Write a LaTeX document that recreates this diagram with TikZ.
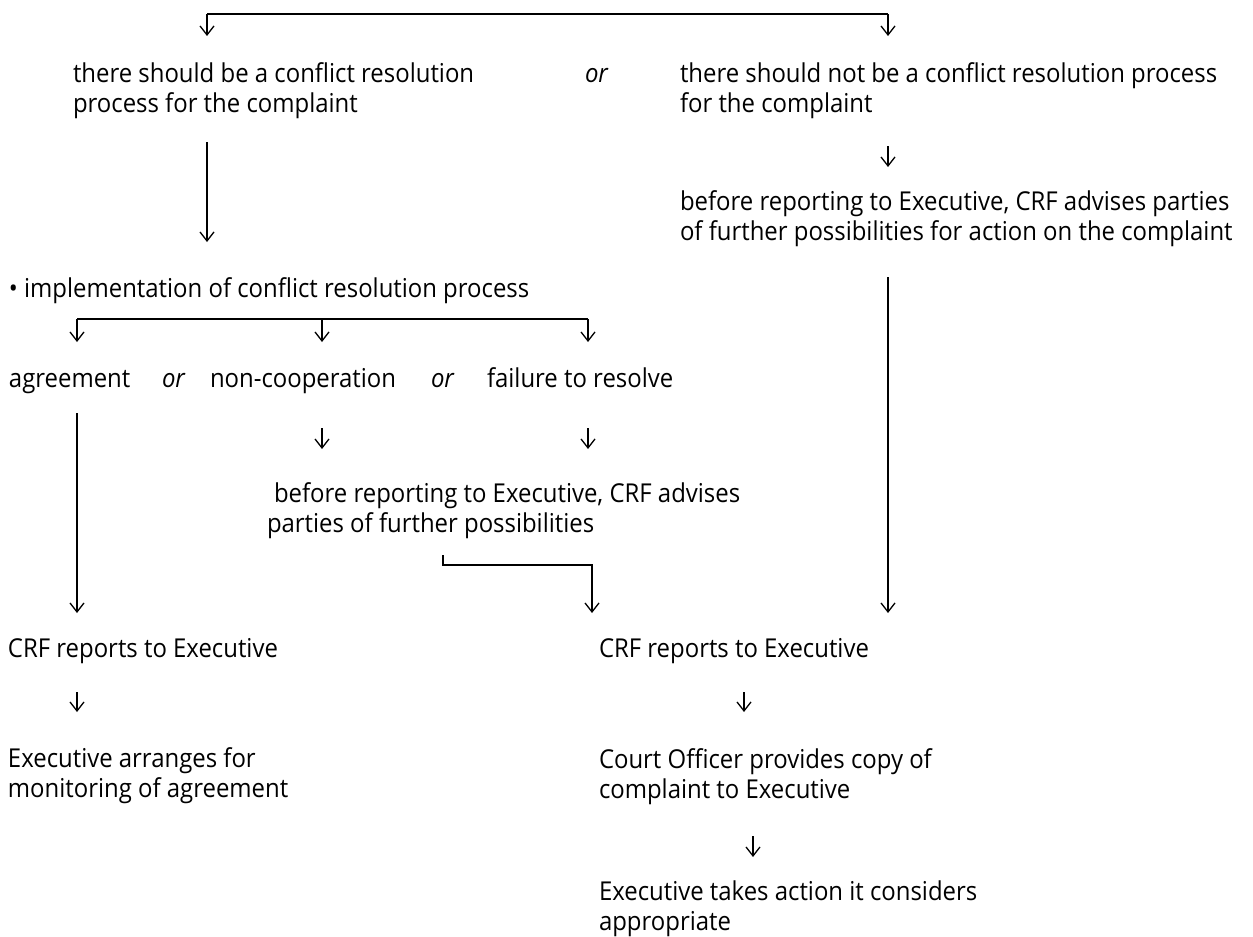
\documentclass[tikz,border=0pt]{standalone}
\usepackage{fontspec}
\setmainfont{Open Sans}[FakeStretch=0.92]
\usetikzlibrary{arrows.meta}
\newcommand{\txtblock}[1]{\begin{tabular}[t]{@{}l@{}}#1\end{tabular}}
\begin{document}
\begin{tikzpicture}[x=1pt,y=-1pt,
  lbl/.style={anchor=base west,inner sep=0pt,outer sep=0pt,font=\fontsize{26}{30.5}\selectfont,text=black},
  itlbl/.style={lbl,font=\fontsize{26}{30.5}\selectfont\itshape},
  conn/.style={line width=1.3pt,draw=black},
  arr/.style={conn,-{Straight Barb[length=9pt,width=14pt]}}]
\useasboundingbox (0,0) rectangle (1253,937);

% ---- text nodes ----
\node[lbl] (should) at (73,82) {\txtblock{there should be a conflict resolution\\process for the complaint}};
\node[itlbl] (or1) at (585,82) {or};
\node[lbl] (shouldnot) at (680,82) {\txtblock{there should not be a conflict resolution process\\for the complaint}};
\node[lbl] (adv1) at (680,210) {\txtblock{before reporting to Executive, CRF advises parties\\of further possibilities for action on the complaint}};
\node[lbl] (impl) at (9,297) {• implementation of conflict resolution process};
\node[lbl] (agree) at (9,387) {agreement};
\node[itlbl] (or2) at (162,387) {or};
\node[lbl] (noncoop) at (210,387) {non-cooperation};
\node[itlbl] (or3) at (431,387) {or};
\node[lbl] (fail) at (487,387) {failure to resolve};
\node[lbl] (adv2) at (267,502) {\txtblock{\hspace*{7pt}before reporting to Executive, CRF advises\\parties of further possibilities}};
\node[lbl] (crfL) at (8,657) {CRF reports to Executive};
\node[lbl] (crfR) at (599,657) {CRF reports to Executive};
\node[lbl] (execArr) at (8,767) {\txtblock{Executive arranges for\\monitoring of agreement}};
\node[lbl] (court) at (599,768) {\txtblock{Court Officer provides copy of\\complaint to Executive}};
\node[lbl] (execAct) at (599,900) {\txtblock{Executive takes action it considers\\appropriate}};

% ---- connector points ----
\coordinate (tbL) at (207,14);
\coordinate (tbR) at (888,14);
\coordinate (tipA) at (207,36);
\coordinate (tipB) at (888,36);
\coordinate (sA1) at (207,142);
\coordinate (sA2) at (207,242);
\coordinate (sB1) at (888,146);
\coordinate (sB2) at (888,167);
\coordinate (rL1) at (888,277);
\coordinate (rL2) at (888,613);
\coordinate (bk1) at (77,319);
\coordinate (bk2) at (322,319);
\coordinate (bk3) at (588,319);
\coordinate (bt1) at (77,342);
\coordinate (bt2) at (322,342);
\coordinate (bt3) at (588,342);
\coordinate (ag1) at (77,413);
\coordinate (ag2) at (77,613);
\coordinate (nc1) at (322,428);
\coordinate (nc2) at (322,449);
\coordinate (fl1) at (588,428);
\coordinate (fl2) at (588,449);
\coordinate (av1) at (443,555);
\coordinate (av2) at (443,565);
\coordinate (av3) at (592,565);
\coordinate (av4) at (592,613);
\coordinate (cl1) at (77,692);
\coordinate (cl2) at (77,712);
\coordinate (cr1) at (744,692);
\coordinate (cr2) at (744,712);
\coordinate (co1) at (753,836);
\coordinate (co2) at (753,857);

% ---- connectors ----
\draw[conn] (tbL) -- (tbR);
\draw[arr] (tbL) -- (tipA);
\draw[arr] (tbR) -- (tipB);
\draw[arr] (sA1) -- (sA2);
\draw[arr] (sB1) -- (sB2);
\draw[arr] (rL1) -- (rL2);
\draw[conn] (bk1) -- (bk3);
\draw[arr] (bk1) -- (bt1);
\draw[arr] (bk2) -- (bt2);
\draw[arr] (bk3) -- (bt3);
\draw[arr] (ag1) -- (ag2);
\draw[arr] (nc1) -- (nc2);
\draw[arr] (fl1) -- (fl2);
\draw[arr] (av1) -- (av2) -- (av3) -- (av4);
\draw[arr] (cl1) -- (cl2);
\draw[arr] (cr1) -- (cr2);
\draw[arr] (co1) -- (co2);
\end{tikzpicture}
\end{document}
